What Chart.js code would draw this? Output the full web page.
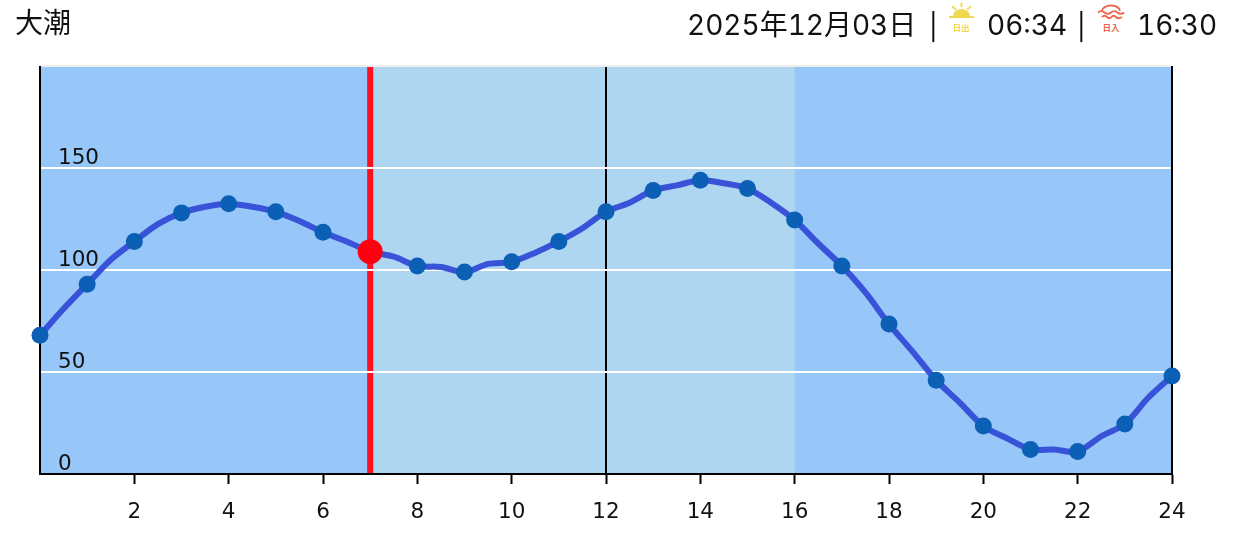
<!DOCTYPE html>
<html><head><meta charset="utf-8">
<script src="https://cdn.jsdelivr.net/npm/chart.js@4"></script>
<style>
html,body{margin:0;padding:0;background:#fff;width:1237px;height:538px;overflow:hidden}
.t{position:absolute;font-family:Inter,"Noto Sans CJK JP",sans-serif;font-size:28px;color:#111;white-space:nowrap;line-height:30px;font-variant-numeric:tabular-nums}
.s{font-size:26px;font-weight:400}
canvas{position:absolute;left:0;top:0}
svg{position:absolute}
</style></head><body>
<canvas id="c" width="1237" height="538"></canvas>
<div class="t" style="left:15px;top:8px">大潮</div>
<div class="t" style="left:687px;top:10px">2025年12月03日</div>
<div class="t s" style="left:929px;top:12px">|</div>
<svg style="left:940px;top:0" width="50" height="40" viewBox="0 0 50 40">
<path d="M13 16a8.500 7 0 0 1 17 0z" fill="#efd84e"/><rect x="9" y="16" width="25" height="2" fill="#efd84e"/>
<g stroke="#efd84e" stroke-width="2"><line x1="21.500" y1="3" x2="21.500" y2="7"/><line x1="12" y1="6.500" x2="16" y2="9.500"/><line x1="31" y1="6.500" x2="27" y2="9.500"/></g>
<text x="21" y="31" font-size="8.500" font-weight="700" text-anchor="middle" fill="#efd84e" font-family="Noto Sans CJK JP">日出</text></svg>
<div class="t" style="left:987px;top:10px">06:34</div>
<div class="t s" style="left:1077px;top:12px">|</div>
<svg style="left:1090px;top:0" width="40" height="40" viewBox="0 0 40 40">
<g fill="none" stroke="#f0644e" stroke-width="1.800"><path d="M12 11a9 5.500 0 0 1 18 0"/><path d="M8 12.500q3.200-2.800 6.500 0t6.500 0 6.500 0 6.500 0"/><path d="M12 17q2.500-2.500 5 0t4.500 0 4.500 0 6 0"/></g>
<text x="21" y="31" font-size="8.500" font-weight="700" text-anchor="middle" fill="#f0644e" font-family="Noto Sans CJK JP">日入</text></svg>
<div class="t" style="left:1137px;top:10px">16:30</div>
<script>
const hours=[0,1,2,3,4,5,6,7,8,9,10,11,12,13,14,15,16,17,18,19,20,21,22,23,24];
const tide=[68,93,114,128,132.5,128.5,118.5,109,102,99,104,114,128.5,139,144,140,124.5,102,73.5,46,23.5,12,11,24.5,48];
const halfHours=[0.5,1.5,2.5,3.5,4.5,5.5,6.5,7.5,8.5,9.5,10.5,11.5,12.5,13.5,14.5,15.5,16.5,17.5,18.5,19.5,20.5,21.5,22.5,23.5];
const halfTide=[81,105,122.5,131,131,124,114,106.5,101.5,103,108.5,120.5,133,141.5,142.5,133,113,89,60,35,17.5,12,18.5,37.5];
const yTicks=[0,50,100,150,200];
const nowHour=7, nowValue=109;
const dayStart=7, dayEnd=16, noon=12;
const nightColor='#97c7f8', dayColor='#afd6f0';
const lineX=[...hours,...halfHours].sort((a,b)=>a-b);
const lineY=lineX.map(h=>Number.isInteger(h)?tide[h]:halfTide[Math.floor(h)]);
const bands={id:'bands',beforeDraw(ch){
  const {ctx,chartArea:a,scales:{x}}=ch;
  ctx.save();
  ctx.fillStyle=nightColor;ctx.fillRect(a.left,a.top,a.right-a.left,a.bottom-a.top);
  ctx.fillStyle=dayColor;ctx.fillRect(x.getPixelForValue(dayStart),a.top,x.getPixelForValue(dayEnd)-x.getPixelForValue(dayStart),a.bottom-a.top);
  ctx.fillStyle='#ff1020';ctx.fillRect(x.getPixelForValue(nowHour)-3,a.top,6,a.bottom-a.top);
  ctx.fillStyle='#000';ctx.fillRect(Math.round(x.getPixelForValue(noon))-1,a.top,2,a.bottom-a.top);
  ctx.restore();
}};
const frame={id:'frame',beforeDatasetsDraw(ch){
  const {ctx,chartArea:a,scales:{x}}=ch;
  ctx.save();ctx.fillStyle='#000';
  for(const v of [0,24])ctx.fillRect(Math.round(x.getPixelForValue(v))-1,a.top,2,a.bottom-a.top);
  ctx.restore();
}};
new Chart(document.getElementById('c'),{
  type:'line',
  data:{datasets:[
    {data:[{x:nowHour,y:nowValue}],pointRadius:12.5,pointBackgroundColor:'#ff0010',pointBorderWidth:0,showLine:false,order:0},
    {data:hours.map((h,i)=>({x:h,y:tide[i]})),showLine:false,pointRadius:8.5,pointBackgroundColor:'#0b5fb4',pointBorderWidth:0,clip:false,order:1},
    {data:lineX.map((h,i)=>({x:h,y:lineY[i]})),borderColor:'#3852d8',borderWidth:6,tension:0.3,pointRadius:0,clip:false,order:2}
  ]},
  options:{responsive:false,animation:false,
    layout:{padding:{left:40,right:65,top:66,bottom:0}},
    plugins:{legend:{display:false},tooltip:{enabled:false}},
    scales:{
      x:{type:'linear',min:0,max:24,
        border:{display:true,color:'#000',width:2},
        grid:{drawOnChartArea:false,drawTicks:true,tickLength:10,tickWidth:2,tickColor:c=>c.tick&&c.tick.value===0?'rgba(0,0,0,0)':'#000'},
        afterFit(s){s.height=64},
        ticks:{stepSize:2,maxRotation:0,padding:16,color:'#111',font:{family:'"DejaVu Sans"',size:21.5},
          callback:v=>v===0?'':v}},
      y:{type:'linear',min:0,max:200,
        afterFit(s){s.width=0},
        afterBuildTicks(s){s.ticks=yTicks.map(v=>({value:v}))},
        border:{display:false},
        grid:{color:c=>c.tick&&c.tick.value===200?'#eeeeee':'#fff',lineWidth:2,drawTicks:false},
        ticks:{mirror:true,padding:18,labelOffset:-10,color:'#111',font:{family:'"DejaVu Sans"',size:21.5},
          callback:v=>v===200?'':v}}
    }
  },
  plugins:[bands,frame]
});
</script>
</body></html>
